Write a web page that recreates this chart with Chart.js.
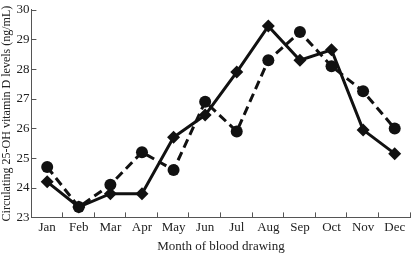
<!DOCTYPE html>
<html>
<head>
<meta charset="utf-8">
<script src="https://cdn.jsdelivr.net/npm/chart.js@4/dist/chart.umd.min.js"></script>
<style>
  html, body { margin: 0; padding: 0; background: #fff; }
  #wrap { width: 417px; height: 255px; }
</style>
</head>
<body>
<div id="wrap"><canvas id="grafico" width="417" height="255"></canvas></div>
<script>
const months = ['Jan', 'Feb', 'Mar', 'Apr', 'May', 'Jun', 'Jul', 'Aug', 'Sep', 'Oct', 'Nov', 'Dec'];
const solidValues = [24.2, 23.35, 23.8, 23.8, 25.7, 26.45, 27.9, 29.45, 28.3, 28.65, 25.95, 25.15];
const dashedValues = [24.7, 23.35, 24.1, 25.2, 24.6, 26.9, 25.9, 28.3, 29.25, 28.1, 27.25, 26.0];
const yMin = 23;
const yMax = 30;

const serif = "'Liberation Serif', 'DejaVu Serif', serif";
const axisColor = '#555';

// short inward tick marks, like the original figure
const tickMarks = {
    id: 'tickMarks',
    afterDraw(chart) {
        const c = chart.ctx;
        const x = chart.scales.x;
        const y = chart.scales.y;
        c.save();
        c.strokeStyle = axisColor;
        c.lineWidth = 1;
        c.beginPath();
        y.ticks.forEach((t, i) => {
            const py = Math.round(y.getPixelForTick(i)) + 0.5;
            c.moveTo(x.left, py);
            c.lineTo(x.left + 5, py);
        });
        const w = (x.right - x.left) / months.length;
        for (let i = 1; i <= months.length; i++) {
            const px = Math.round(x.left + i * w) - 0.5;
            c.moveTo(px, y.bottom);
            c.lineTo(px, y.bottom - 5);
        }
        c.stroke();
        c.restore();
    }
};

const ctx = document.getElementById('grafico').getContext('2d');
const grafico = new Chart(ctx, {
    type: 'line',
    data: {
        labels: months,
        datasets: [
            {
                data: dashedValues,
                borderColor: '#111',
                backgroundColor: '#111',
                borderWidth: 3,
                borderDash: [9, 5],
                pointStyle: 'circle',
                pointRadius: 6,
                pointBorderWidth: 0,
                tension: 0,
            },
            {
                data: solidValues,
                borderColor: '#111',
                backgroundColor: '#111',
                borderWidth: 3,
                pointStyle: 'rectRot',
                pointRadius: 6.5,
                pointBorderWidth: 0,
                tension: 0,
            }
        ]
    },
    plugins: [tickMarks],
    options: {
        responsive: false,
        animation: false,
        layout: { padding: { top: -1, right: 1, left: 0, bottom: 1 } },
        plugins: {
            legend: { display: false },
            tooltip: { enabled: false },
        },
        scales: {
            x: {
                offset: true,
                grid: { display: false, drawTicks: false },
                border: { display: true, color: axisColor, width: 1 },
                ticks: {
                    color: '#222',
                    padding: 4,
                    font: { family: serif, size: 13, lineHeight: 1.0 },
                    maxRotation: 0,
                },
                title: {
                    display: true,
                    text: 'Month of blood drawing',
                    color: '#222',
                    font: { family: serif, size: 13 },
                    padding: { top: 0, bottom: 0 },
                },
            },
            y: {
                min: yMin,
                max: yMax,
                grid: { display: false, drawTicks: false },
                border: { display: true, color: axisColor, width: 1 },
                ticks: {
                    stepSize: 1,
                    color: '#222',
                    padding: 2,
                    font: { family: serif, size: 13 },
                },
                title: {
                    display: true,
                    text: 'Circulating 25-OH vitamin D levels (ng/mL)',
                    color: '#222',
                    font: { family: serif, size: 12 },
                    padding: { top: 0, bottom: 0 },
                },
            },
        },
    },
});
</script>
</body>
</html>
